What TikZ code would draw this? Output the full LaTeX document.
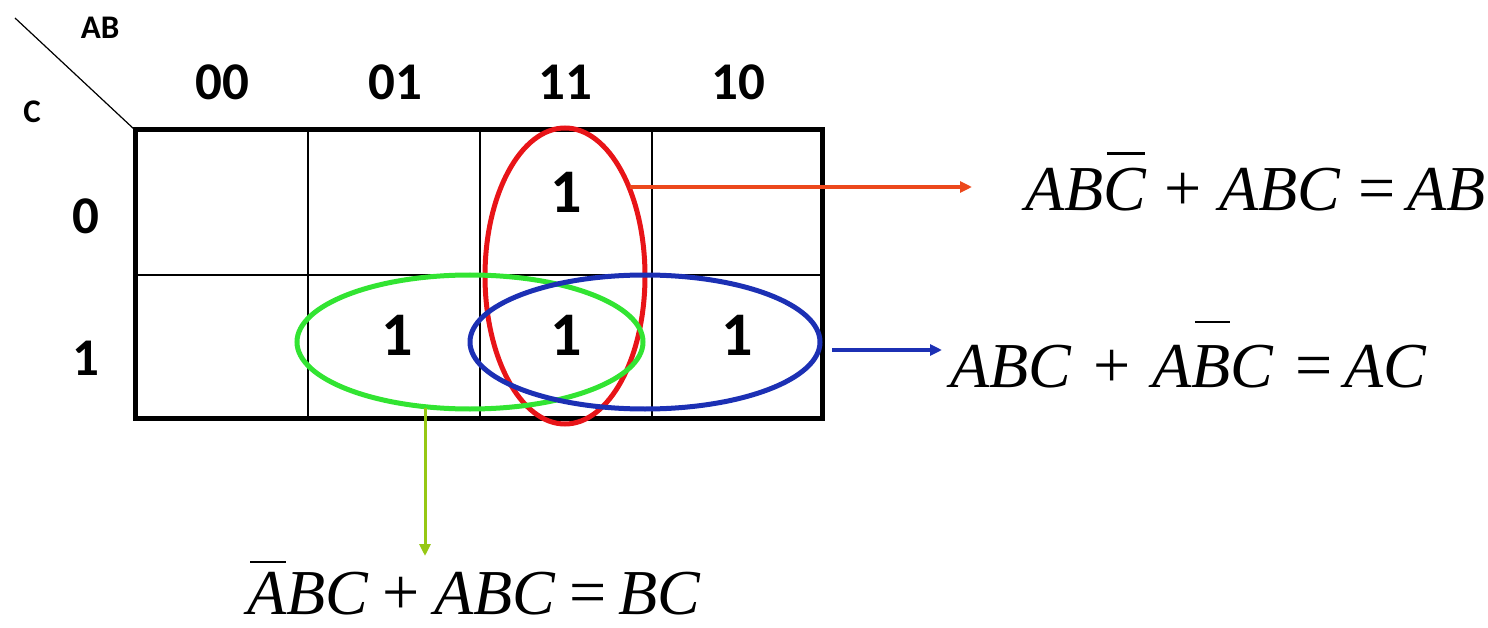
\documentclass[tikz,border=0pt]{standalone}
\usepackage{fontspec}
\setmainfont{Liberation Serif}
\newfontfamily\kfont{Carlito}
\usetikzlibrary{shapes.geometric,arrows.meta}
\definecolor{kred}{RGB}{232,20,24}
\definecolor{korange}{RGB}{236,72,28}
\definecolor{kgreen}{RGB}{50,228,50}
\definecolor{kblue}{RGB}{28,48,180}
\definecolor{klime}{RGB}{150,200,20}
\newcommand\obar[2][10pt]{\setbox0\hbox{\itshape #2}\rlap{\hspace{0.08\wd0}\raisebox{\dimexpr\ht0+#1\relax}{\rule{0.9\wd0}{2.2pt}}}\box0}
\newcommand\opgap{0.28em}
\newcommand\opplus{\hspace{\opgap}{\fontsize{66}{70}\selectfont +}\hspace{\opgap}}
\newcommand\opeq{\hspace{\opgap}{\fontsize{66}{70}\selectfont =}\hspace{0.18em}}
\begin{document}
\begin{tikzpicture}[x=1pt,y=-1pt,
  hdr/.style={font=\kfont\bfseries\fontsize{53}{56}\selectfont, inner sep=0pt},
  small/.style={font=\kfont\bfseries\fontsize{33}{36}\selectfont, inner sep=0pt},
  one/.style={font=\kfont\bfseries\fontsize{62}{66}\selectfont, inner sep=0pt},
  eqn/.style={font=\fontsize{64}{70}\selectfont, inner sep=0pt, anchor=base west},
  loop/.style={ellipse, draw, line width=5pt, inner sep=0pt},
  link/.style={line width=4pt, -{Triangle[length=12pt,width=11pt]}},
  thinline/.style={line width=1.5pt},
  thickline/.style={line width=5pt}]
\useasboundingbox (0,0) rectangle (1488,628);
% grid
\coordinate (g00) at (135,130);
\coordinate (g11) at (822,418);
\draw[thinline] (308,130) -- (308,418);
\draw[thinline] (480,130) -- (480,418);
\draw[thinline] (652,130) -- (652,418);
\draw[thinline] (135,275) -- (822,275);
\draw[thickline] (g00) rectangle (g11);
\coordinate (diag) at (15,18);
\draw[line width=1.2pt] (diag) -- (g00);
\node[small] (lab) at (100,28) {AB};
\node[small] (labc) at (32,112) {C};
\node[hdr] (h1) at (222,82) {00};
\node[hdr] (h2) at (395,82) {01};
\node[hdr] (h3) at (565,82) {11};
\node[hdr] (h4) at (738,82) {10};
\node[hdr] (r0) at (86,216) {0};
\node[hdr] (r1) at (86,358) {1};
\node[one] (c1) at (566,192) {1};
\node[one] (c2) at (397,335) {1};
\node[one] (c3) at (566,335) {1};
\node[one] (c4) at (737,335) {1};
% loops
\node[loop, draw=kred, minimum width=160pt, minimum height=296pt] (redl) at (565,276) {};
\node[loop, draw=kgreen, minimum width=346pt, minimum height=134pt] (greenl) at (470,342) {};
\node[loop, draw=kblue, minimum width=350pt, minimum height=134pt] (bluel) at (645,342) {};
% equations
\node[eqn] (eqr) at (1025,211) {\textit{AB}\obar[14pt]{C}\opplus\textit{ABC}\opeq\textit{AB}};
\node[eqn] (eqb) at (950,387) {\renewcommand\opgap{0.34em}\textit{ABC}\opplus\textit{A}\obar[22pt]{B}\textit{C}\opeq\textit{AC}};
\node[eqn] (eqg) at (247,614) {\renewcommand\opgap{0.22em}\obar[9pt]{A}\textit{BC}\opplus\textit{ABC}\opeq\textit{BC}};
% connectors
\coordinate (ra) at (630,187);
\coordinate (rb) at (972,187);
\coordinate (ba) at (832,350);
\coordinate (bb) at (942,350);
\coordinate (ga) at (425,408);
\coordinate (gb) at (425,556);
\draw[link, draw=korange, fill=korange] (ra) -- (rb);
\draw[link, draw=kblue, fill=kblue] (ba) -- (bb);
\draw[link, line width=3pt, draw=klime, fill=klime] (ga) -- (gb);
\end{tikzpicture}
\end{document}
